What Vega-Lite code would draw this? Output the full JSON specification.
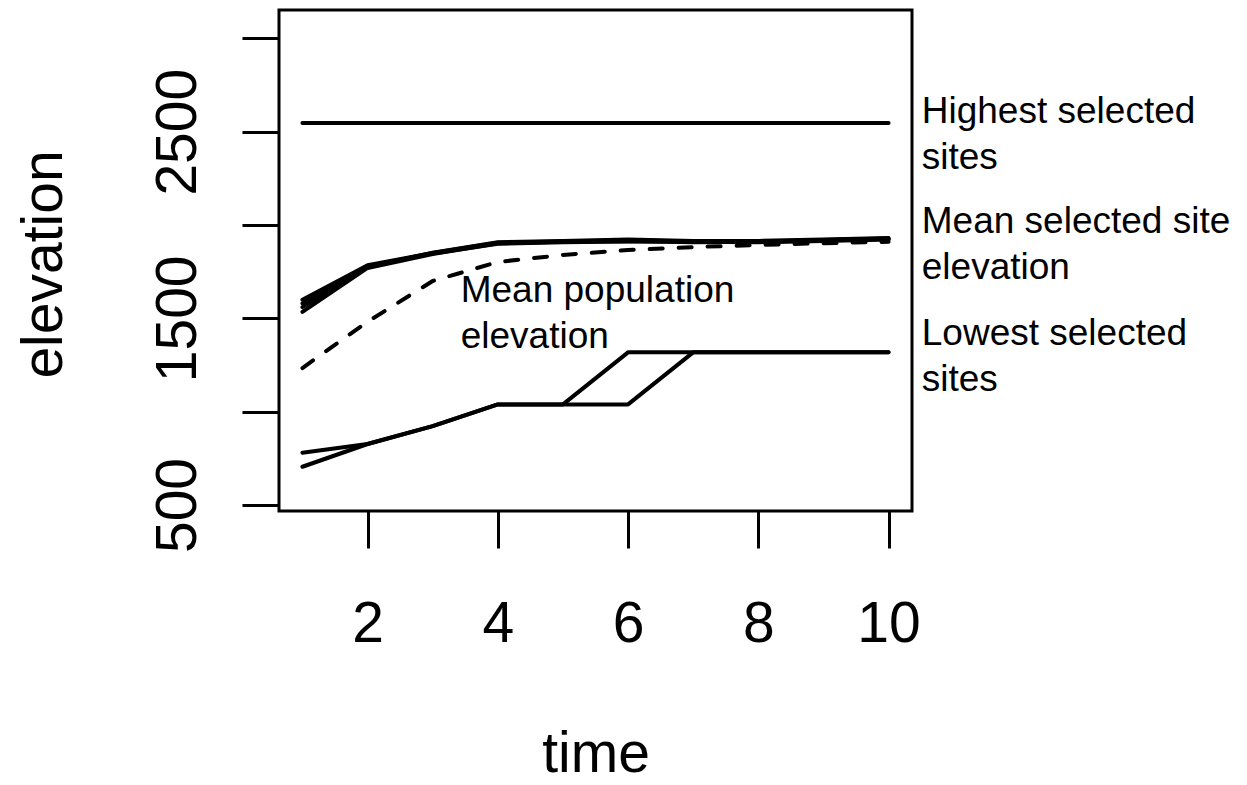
{
  "$schema": "https://vega.github.io/schema/vega-lite/v6.json",
  "width": 633,
  "height": 501,
  "autosize": {"type": "none"},
  "padding": {"left": 279, "top": 10, "right": 335, "bottom": 274},
  "background": "white",
  "config": {
    "view": {"stroke": "black", "strokeWidth": 3},
    "font": "Liberation Sans",
    "axis": {
      "grid": false,
      "domain": false,
      "tickColor": "black",
      "tickWidth": 3,
      "tickSize": 37,
      "labelColor": "black",
      "labelFontSize": 57,
      "labelFont": "Liberation Sans",
      "titleFont": "Liberation Sans",
      "titleFontSize": 57,
      "titleFontWeight": "normal",
      "titleColor": "black",
      "labelFlush": false,
      "labelOverlap": false
    }
  },
  "datasets": {
    "lines": [
      {"series": "high", "kind": "solid", "time": 1, "elevation": 2546},
      {"series": "high", "kind": "solid", "time": 2, "elevation": 2546},
      {"series": "high", "kind": "solid", "time": 3, "elevation": 2546},
      {"series": "high", "kind": "solid", "time": 4, "elevation": 2546},
      {"series": "high", "kind": "solid", "time": 5, "elevation": 2546},
      {"series": "high", "kind": "solid", "time": 6, "elevation": 2546},
      {"series": "high", "kind": "solid", "time": 7, "elevation": 2546},
      {"series": "high", "kind": "solid", "time": 8, "elevation": 2546},
      {"series": "high", "kind": "solid", "time": 9, "elevation": 2546},
      {"series": "high", "kind": "solid", "time": 10, "elevation": 2546},

      {"series": "sel1", "kind": "solid", "time": 1, "elevation": 1600},
      {"series": "sel1", "kind": "solid", "time": 2, "elevation": 1785},
      {"series": "sel1", "kind": "solid", "time": 3, "elevation": 1850},
      {"series": "sel1", "kind": "solid", "time": 4, "elevation": 1905},
      {"series": "sel1", "kind": "solid", "time": 5, "elevation": 1912},
      {"series": "sel1", "kind": "solid", "time": 6, "elevation": 1918},
      {"series": "sel1", "kind": "solid", "time": 7, "elevation": 1912},
      {"series": "sel1", "kind": "solid", "time": 8, "elevation": 1912},
      {"series": "sel1", "kind": "solid", "time": 9, "elevation": 1920},
      {"series": "sel1", "kind": "solid", "time": 10, "elevation": 1928},

      {"series": "sel2", "kind": "solid", "time": 1, "elevation": 1580},
      {"series": "sel2", "kind": "solid", "time": 2, "elevation": 1780},
      {"series": "sel2", "kind": "solid", "time": 3, "elevation": 1848},
      {"series": "sel2", "kind": "solid", "time": 4, "elevation": 1900},
      {"series": "sel2", "kind": "solid", "time": 5, "elevation": 1908},
      {"series": "sel2", "kind": "solid", "time": 6, "elevation": 1912},
      {"series": "sel2", "kind": "solid", "time": 7, "elevation": 1910},
      {"series": "sel2", "kind": "solid", "time": 8, "elevation": 1908},
      {"series": "sel2", "kind": "solid", "time": 9, "elevation": 1915},
      {"series": "sel2", "kind": "solid", "time": 10, "elevation": 1922},

      {"series": "sel3", "kind": "solid", "time": 1, "elevation": 1560},
      {"series": "sel3", "kind": "solid", "time": 2, "elevation": 1775},
      {"series": "sel3", "kind": "solid", "time": 3, "elevation": 1852},
      {"series": "sel3", "kind": "solid", "time": 4, "elevation": 1908},
      {"series": "sel3", "kind": "solid", "time": 5, "elevation": 1915},
      {"series": "sel3", "kind": "solid", "time": 6, "elevation": 1922},
      {"series": "sel3", "kind": "solid", "time": 7, "elevation": 1915},
      {"series": "sel3", "kind": "solid", "time": 8, "elevation": 1915},
      {"series": "sel3", "kind": "solid", "time": 9, "elevation": 1922},
      {"series": "sel3", "kind": "solid", "time": 10, "elevation": 1930},

      {"series": "sel4", "kind": "solid", "time": 1, "elevation": 1535},
      {"series": "sel4", "kind": "solid", "time": 2, "elevation": 1770},
      {"series": "sel4", "kind": "solid", "time": 3, "elevation": 1845},
      {"series": "sel4", "kind": "solid", "time": 4, "elevation": 1902},
      {"series": "sel4", "kind": "solid", "time": 5, "elevation": 1910},
      {"series": "sel4", "kind": "solid", "time": 6, "elevation": 1915},
      {"series": "sel4", "kind": "solid", "time": 7, "elevation": 1908},
      {"series": "sel4", "kind": "solid", "time": 8, "elevation": 1910},
      {"series": "sel4", "kind": "solid", "time": 9, "elevation": 1918},
      {"series": "sel4", "kind": "solid", "time": 10, "elevation": 1925},

      {"series": "lowA", "kind": "solid", "time": 1, "elevation": 780},
      {"series": "lowA", "kind": "solid", "time": 2, "elevation": 827},
      {"series": "lowA", "kind": "solid", "time": 3, "elevation": 923},
      {"series": "lowA", "kind": "solid", "time": 4, "elevation": 1039},
      {"series": "lowA", "kind": "solid", "time": 5, "elevation": 1039},
      {"series": "lowA", "kind": "solid", "time": 6, "elevation": 1318},
      {"series": "lowA", "kind": "solid", "time": 7, "elevation": 1318},
      {"series": "lowA", "kind": "solid", "time": 8, "elevation": 1318},
      {"series": "lowA", "kind": "solid", "time": 9, "elevation": 1318},
      {"series": "lowA", "kind": "solid", "time": 10, "elevation": 1318},

      {"series": "lowB", "kind": "solid", "time": 1, "elevation": 705},
      {"series": "lowB", "kind": "solid", "time": 2, "elevation": 827},
      {"series": "lowB", "kind": "solid", "time": 3, "elevation": 923},
      {"series": "lowB", "kind": "solid", "time": 4, "elevation": 1039},
      {"series": "lowB", "kind": "solid", "time": 5, "elevation": 1039},
      {"series": "lowB", "kind": "solid", "time": 6, "elevation": 1039},
      {"series": "lowB", "kind": "solid", "time": 7, "elevation": 1318},
      {"series": "lowB", "kind": "solid", "time": 8, "elevation": 1318},
      {"series": "lowB", "kind": "solid", "time": 9, "elevation": 1318},
      {"series": "lowB", "kind": "solid", "time": 10, "elevation": 1318},

      {"series": "pop", "kind": "dashed", "time": 1, "elevation": 1234},
      {"series": "pop", "kind": "dashed", "time": 2, "elevation": 1482},
      {"series": "pop", "kind": "dashed", "time": 3, "elevation": 1700},
      {"series": "pop", "kind": "dashed", "time": 4, "elevation": 1802},
      {"series": "pop", "kind": "dashed", "time": 5, "elevation": 1840},
      {"series": "pop", "kind": "dashed", "time": 6, "elevation": 1866},
      {"series": "pop", "kind": "dashed", "time": 7, "elevation": 1882},
      {"series": "pop", "kind": "dashed", "time": 8, "elevation": 1893},
      {"series": "pop", "kind": "dashed", "time": 9, "elevation": 1903},
      {"series": "pop", "kind": "dashed", "time": 10, "elevation": 1910}
    ],
    "labels": [
      {"label": "Highest selected\nsites", "time": 10.51, "elevation": 2546},
      {"label": "Mean selected site\nelevation", "time": 10.51, "elevation": 1957},
      {"label": "Lowest selected\nsites", "time": 10.51, "elevation": 1357},
      {"label": "Mean population\nelevation", "time": 3.43, "elevation": 1587}
    ]
  },
  "encoding": {
    "x": {
      "field": "time",
      "type": "quantitative",
      "scale": {"domain": [0.64, 10.36], "nice": false, "zero": false},
      "axis": {
        "values": [2, 4, 6, 8, 10],
        "labelBaseline": "alphabetic",
        "labelPadding": 93,
        "title": "time",
        "titleBaseline": "alphabetic",
        "titleY": 260
      }
    },
    "y": {
      "field": "elevation",
      "type": "quantitative",
      "scale": {"domain": [468, 3152], "nice": false, "zero": false},
      "axis": {
        "values": [500, 1000, 1500, 2000, 2500, 3000],
        "labelExpr": "datum.value % 1000 == 500 ? datum.label : ''",
        "format": "d",
        "labelAngle": -90,
        "labelAlign": "center",
        "labelBaseline": "alphabetic",
        "labelPadding": 47,
        "title": "elevation",
        "titleAngle": -90,
        "titleAlign": "center",
        "titleBaseline": "alphabetic",
        "titleX": -218,
        "titleY": 254
      }
    }
  },
  "layer": [
    {
      "data": {"name": "lines"},
      "transform": [{"filter": "datum.kind == 'solid'"}],
      "mark": {"type": "line", "color": "black", "strokeWidth": 4, "strokeCap": "round", "strokeJoin": "round"},
      "encoding": {"detail": {"field": "series", "type": "nominal"}}
    },
    {
      "data": {"name": "lines"},
      "transform": [{"filter": "datum.kind == 'dashed'"}],
      "mark": {"type": "line", "color": "black", "strokeWidth": 4, "strokeCap": "round", "strokeJoin": "round", "strokeDash": [13, 16]},
      "encoding": {"detail": {"field": "series", "type": "nominal"}}
    },
    {
      "data": {"name": "labels"},
      "mark": {"type": "text", "align": "left", "baseline": "alphabetic", "fontSize": 37, "lineBreak": "\n", "lineHeight": 46, "color": "black", "font": "Liberation Sans"},
      "encoding": {"text": {"field": "label", "type": "nominal"}}
    }
  ]
}
